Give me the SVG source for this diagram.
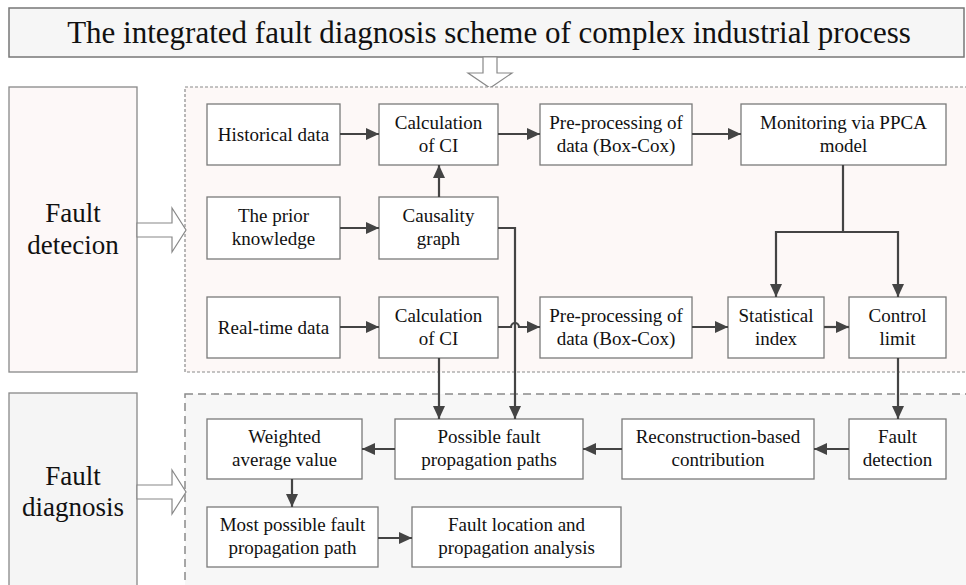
<svg xmlns="http://www.w3.org/2000/svg" width="966" height="585" viewBox="0 0 966 585">
<defs>
<marker id="ah" markerUnits="userSpaceOnUse" markerWidth="14" markerHeight="14" refX="13" refY="7" orient="auto">
<path d="M0,1 L13,7 L0,13 z" fill="#444"/>
</marker>
<style>
text{font-family:"Liberation Serif","Times New Roman",serif;fill:#111;text-anchor:middle}
.n{font-size:19px}
.big{font-size:27px}
.box{fill:#fff;stroke:#7a7a7a;stroke-width:1.3}
.c{fill:none;stroke:#444;stroke-width:2.2}
.hollow{fill:#fff;stroke:#888;stroke-width:1.2}
</style>
</defs>
<rect width="966" height="585" fill="#fff"/>

<g id="title">
<rect x="9" y="8" width="955" height="49" fill="#f6f6f6" stroke="#777" stroke-width="1.5"/>
<text x="489" y="43" style="font-size:31px">The integrated fault diagnosis scheme of complex industrial process</text>
</g>
<polygon class="hollow" points="483,57 497,57 497,73 512,73 490,88 468,73 483,73"/>

<g id="detection-region">
<rect x="185" y="87" width="790" height="285" fill="#fdf8f7" stroke="#8a8a8a" stroke-width="1.2" stroke-dasharray="3,2"/>
</g>
<g id="diagnosis-region">
<rect x="185" y="394" width="790" height="200" fill="#f7f7f7" stroke="#8a8a8a" stroke-width="1.5" stroke-dasharray="8,5"/>
</g>

<g id="fault-detection">
<rect x="9" y="87" width="128" height="285" fill="#fdf8f8" stroke="#888" stroke-width="1.3"/>
<text class="big" x="73" y="222">Fault</text>
<text class="big" x="73" y="254">detecion</text>
</g>
<polygon class="hollow" points="137,223 172,223 172,208 186,230 172,252 172,237 137,237"/>

<g id="fault-diagnosis">
<rect x="9" y="393" width="128" height="200" fill="#f5f5f5" stroke="#888" stroke-width="1.3"/>
<text class="big" x="73" y="485">Fault</text>
<text class="big" x="73" y="516">diagnosis</text>
</g>
<polygon class="hollow" points="137,485 172,485 172,470 186,492 172,514 172,499 137,499"/>

<g id="historical">
<rect class="box" x="207" y="104" width="133" height="61"/>
<text class="n" x="273.5" y="141">Historical data</text>
</g>
<g id="calc-ci-1">
<rect class="box" x="379" y="104" width="119" height="61"/>
<text class="n" x="438.5" y="129">Calculation</text>
<text class="n" x="438.5" y="152">of CI</text>
</g>
<g id="preproc-1">
<rect class="box" x="540" y="104" width="152" height="61"/>
<text class="n" x="616" y="129">Pre-processing of</text>
<text class="n" x="616" y="152">data (Box-Cox)</text>
</g>
<g id="ppca">
<rect class="box" x="741" y="104" width="205" height="61"/>
<text class="n" x="843.5" y="129">Monitoring via PPCA</text>
<text class="n" x="843.5" y="152">model</text>
</g>
<g id="prior">
<rect class="box" x="207" y="197" width="133" height="62"/>
<text class="n" x="273.5" y="222">The prior</text>
<text class="n" x="273.5" y="245">knowledge</text>
</g>
<g id="causality">
<rect class="box" x="379" y="197" width="119" height="62"/>
<text class="n" x="438.5" y="222">Causality</text>
<text class="n" x="438.5" y="245">graph</text>
</g>
<g id="realtime">
<rect class="box" x="207" y="297" width="133" height="61"/>
<text class="n" x="273.5" y="334">Real-time data</text>
</g>
<g id="calc-ci-2">
<rect class="box" x="379" y="297" width="119" height="61"/>
<text class="n" x="438.5" y="322">Calculation</text>
<text class="n" x="438.5" y="345">of CI</text>
</g>
<g id="preproc-2">
<rect class="box" x="540" y="297" width="152" height="61"/>
<text class="n" x="616" y="322">Pre-processing of</text>
<text class="n" x="616" y="345">data (Box-Cox)</text>
</g>
<g id="statistical">
<rect class="box" x="728" y="297" width="96" height="61"/>
<text class="n" x="776" y="322">Statistical</text>
<text class="n" x="776" y="345">index</text>
</g>
<g id="control">
<rect class="box" x="849" y="297" width="97" height="61"/>
<text class="n" x="897.5" y="322">Control</text>
<text class="n" x="897.5" y="345">limit</text>
</g>

<g id="weighted">
<rect class="box" x="207" y="419" width="155" height="60"/>
<text class="n" x="284.5" y="443">Weighted</text>
<text class="n" x="284.5" y="466">average value</text>
</g>
<g id="possible">
<rect class="box" x="395" y="419" width="188" height="60"/>
<text class="n" x="489" y="443">Possible fault</text>
<text class="n" x="489" y="466">propagation paths</text>
</g>
<g id="reconstruction">
<rect class="box" x="622" y="419" width="192" height="60"/>
<text class="n" x="718" y="443">Reconstruction-based</text>
<text class="n" x="718" y="466">contribution</text>
</g>
<g id="fault-det">
<rect class="box" x="849" y="419" width="97" height="60"/>
<text class="n" x="897.5" y="443">Fault</text>
<text class="n" x="897.5" y="466">detection</text>
</g>
<g id="most-possible">
<rect class="box" x="207" y="507" width="171" height="60"/>
<text class="n" x="292.5" y="531">Most possible fault</text>
<text class="n" x="292.5" y="554">propagation path</text>
</g>
<g id="location">
<rect class="box" x="412" y="507" width="209" height="60"/>
<text class="n" x="516.5" y="531">Fault location and</text>
<text class="n" x="516.5" y="554">propagation analysis</text>
</g>

<g id="connectors">
<path class="c" d="M340,134 H379" marker-end="url(#ah)"/>
<path class="c" d="M498,134 H540" marker-end="url(#ah)"/>
<path class="c" d="M692,134 H741" marker-end="url(#ah)"/>
<path class="c" d="M340,228 H379" marker-end="url(#ah)"/>
<path class="c" d="M439,197 V165" marker-end="url(#ah)"/>
<path class="c" d="M340,327 H379" marker-end="url(#ah)"/>
<path class="c" d="M498,327 H511 A4,4 0 0 1 519,327 H540" marker-end="url(#ah)"/>
<path class="c" d="M692,327 H728" marker-end="url(#ah)"/>
<path class="c" d="M824,327 H849" marker-end="url(#ah)"/>
<path class="c" d="M843,165 V232"/>
<path class="c" d="M843,232 H776 V297" marker-end="url(#ah)"/>
<path class="c" d="M843,232 H898 V297" marker-end="url(#ah)"/>
<path class="c" d="M498,228 H515 V419" marker-end="url(#ah)"/>
<path class="c" d="M439,358 V419" marker-end="url(#ah)"/>
<path class="c" d="M898,358 V419" marker-end="url(#ah)"/>
<path class="c" d="M849,449 H814" marker-end="url(#ah)"/>
<path class="c" d="M622,449 H583" marker-end="url(#ah)"/>
<path class="c" d="M395,449 H362" marker-end="url(#ah)"/>
<path class="c" d="M292,479 V507" marker-end="url(#ah)"/>
<path class="c" d="M378,538 H412" marker-end="url(#ah)"/>
</g>
</svg>
